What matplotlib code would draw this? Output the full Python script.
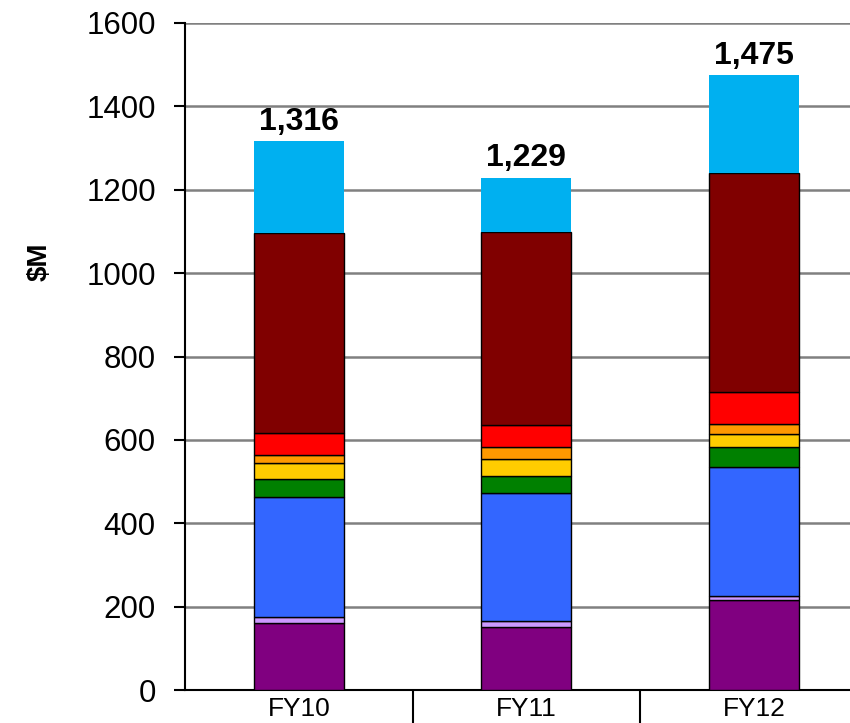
import numpy as np
import matplotlib.pyplot as plt

plt.rcParams['font.family'] = ['Liberation Sans', 'DejaVu Sans']

years = ['FY10', 'FY11', 'FY12']
totals = [1316, 1229, 1475]

# stacked segments, bottom to top ($M)
purple    = [160, 152, 216]
lavender  = [16, 14, 10]
blue      = [288, 306, 308]
green     = [42, 41, 50]
yellow    = [38, 40, 29]
orange    = [20, 31, 25]
red       = [52, 52, 78]
darkred   = [480, 463, 524]
lightblue = [220, 130, 235]

segments = [purple, lavender, blue, green, yellow, orange, red, darkred, lightblue]
colors = ['#800080', '#CC99FF', '#3366FF', '#008000', '#FFCC00',
          '#FF9900', '#FF0000', '#800000', '#00B0F0']

fig = plt.figure(figsize=(8.5, 7.23), dpi=100)
ax = fig.add_axes([0.2176, 0.0456, 0.8034, 0.9226])

x = np.arange(len(years))
bottom = np.zeros(len(years))
for i, (seg, c) in enumerate(zip(segments, colors)):
    last = i == len(segments) - 1
    ax.bar(x, seg, 0.395, bottom=bottom, color=c,
           edgecolor='none' if last else 'black', linewidth=1.0, zorder=3)
    bottom += np.array(seg)

for xi, t in zip(x, totals):
    ax.annotate('{:,}'.format(t), (xi, t), xytext=(0, 3), textcoords='offset points',
                ha='center', va='bottom', fontsize=23, fontweight='bold', zorder=4)

ax.set_xlim(-0.5, 2.5)
ax.set_ylim(0, 1600)
ax.set_yticks(np.arange(0, 1601, 200))
ax.tick_params(axis='y', labelsize=22.5, length=8, width=1.5, direction='out', pad=13)
ax.yaxis.grid(True, color='#808080', linewidth=1.8, zorder=0)

ax.set_xticks([0.5, 1.5])
ax.set_xticklabels([])
ax.set_xticks(x, minor=True)
ax.set_xticklabels(years, minor=True)
ax.tick_params(axis='x', which='major', length=40, width=1.5, direction='out')
ax.tick_params(axis='x', which='minor', length=0, labelsize=19, pad=5)

for side in ['top', 'right']:
    ax.spines[side].set_visible(False)
ax.spines['left'].set_linewidth(1.5)
ax.spines['bottom'].set_linewidth(1.5)

fig.text(0.047, 0.638, '$M', rotation=90, fontsize=20, fontweight='bold',
         ha='center', va='center')

plt.savefig('out.png', dpi=100)
